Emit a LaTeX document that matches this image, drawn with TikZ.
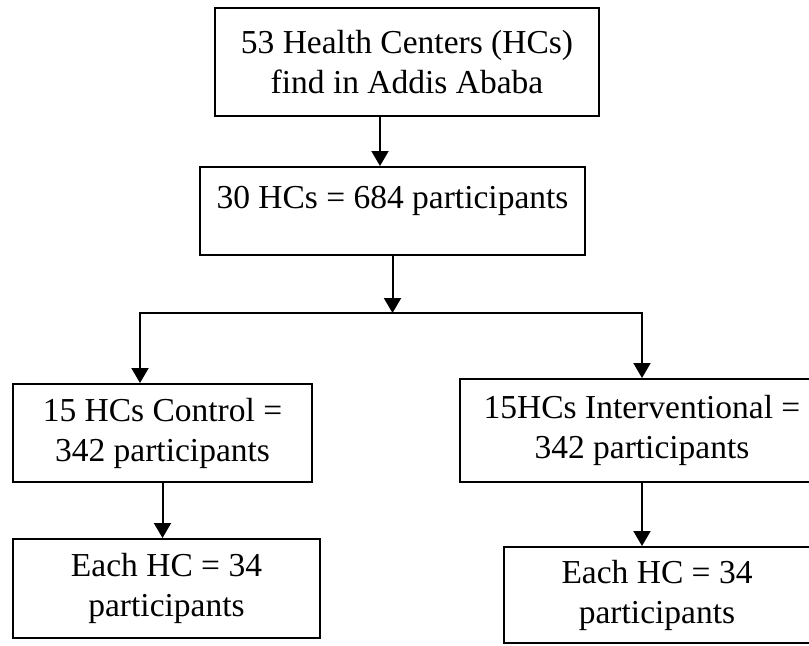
\documentclass[tikz,border=0pt]{standalone}
\usepackage{fontspec}
\setmainfont{Liberation Serif}
\usetikzlibrary{arrows.meta,positioning}
\tikzset{box/.style={draw, line width=1pt, align=center, inner sep=0pt, font=\fontsize{16.75pt}{20pt}\selectfont}}
\begin{document}
\begin{tikzpicture}[x=1pt,y=1pt,>={Triangle[length=7.5pt,width=8.5pt]},line width=1pt]
  \useasboundingbox (0,0) rectangle (404.5,322.5);
  \clip (0,0) rectangle (404.5,322.5);
  \node[box, minimum width=192pt, minimum height=54pt] (hc) at (203.5,291.5) {53 Health Centers (HCs)\\find in Addis Ababa};
  \node[box, below of=hc, node distance=74.5pt, xshift=-7.25pt, minimum width=192.5pt, minimum height=44pt] (all) {30 HCs = 684 participants\\[-6pt]~};
  \node[box, below of=all, node distance=111pt, xshift=-115pt, minimum width=149.5pt, minimum height=49pt] (ctrl) {15 HCs Control =\\342 participants};
  \node[box, below of=all, node distance=109.75pt, xshift=124.75pt, minimum width=182pt, minimum height=51.5pt] (intv) {15HCs Interventional =\\342 participants};
  \node[box, below of=ctrl, node distance=77.75pt, xshift=2pt, minimum width=153.5pt, minimum height=49.5pt] (eachc) {Each HC = 34\\participants};
  \node[box, below of=intv, node distance=82.25pt, xshift=7.5pt, minimum width=153pt, minimum height=48pt] (eachi) {Each HC = 34\\participants};
  \coordinate[below of=all, node distance=51pt] (split);
  \draw[->] ([xshift=-13.5pt]hc.south) -- ([xshift=-13.5pt]hc.south |- all.north);
  \draw[->] (all.south) -- (split);
  \draw[->] (split) -| ([xshift=-11.25pt]ctrl.north);
  \draw[->] (split) -| (intv.north);
  \draw[->] (ctrl.south) -- (ctrl.south |- eachc.north);
  \draw[->] (intv.south) -- (intv.south |- eachi.north);
\end{tikzpicture}
\end{document}
